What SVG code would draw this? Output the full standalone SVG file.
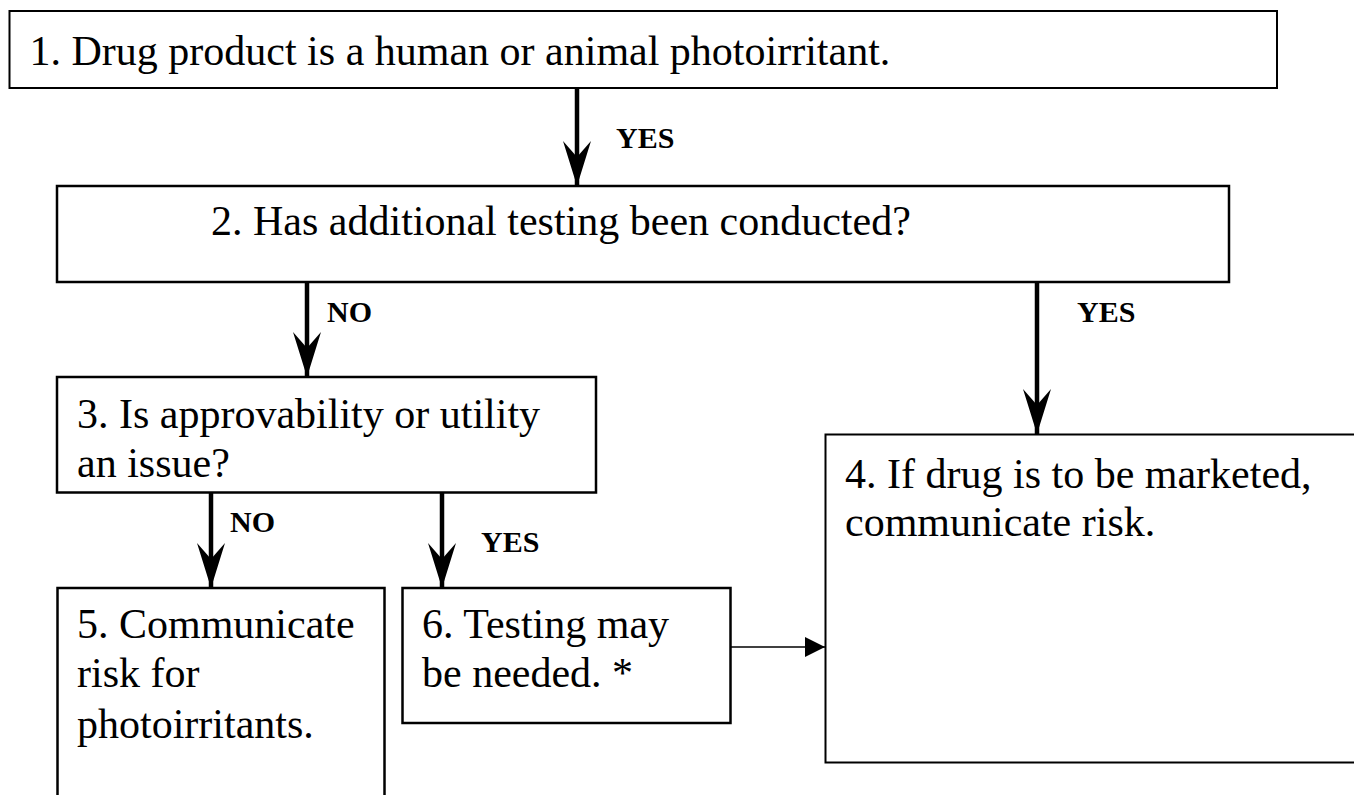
<svg xmlns="http://www.w3.org/2000/svg" width="1354" height="795" viewBox="0 0 1354 795">
<style>
  .box { fill: #ffffff; stroke: #000000; stroke-width: 2.5; }
  .thin { stroke-width: 2; }
  .txt { font-family: "Liberation Serif", "Times New Roman", serif; font-size: 42px; fill: #000000; }
  .lbl { font-family: "Liberation Serif", "Times New Roman", serif; font-size: 30px; font-weight: bold; fill: #000000; }
  .conn { stroke: #000000; stroke-width: 4.5; fill: none; }
  .conn-thin { stroke: #000000; stroke-width: 1.5; fill: none; }
</style>
<defs>
  <marker id="headBig" viewBox="-46 -15 47 30" refX="0" refY="0" markerWidth="47" markerHeight="30" markerUnits="userSpaceOnUse" orient="auto">
    <path d="M0,0 L-45,-14 L-29,0 L-45,14 Z" fill="#000000"/>
  </marker>
  <marker id="headSmall" viewBox="-21 -11 22 22" refX="0" refY="0" markerWidth="22" markerHeight="22" markerUnits="userSpaceOnUse" orient="auto">
    <path d="M0,0 L-20,-10 L-20,10 Z" fill="#000000"/>
  </marker>
</defs>
<rect width="1354" height="795" fill="#ffffff"/>

<g id="connectors">
  <path class="conn" d="M577,88 L577,186" marker-end="url(#headBig)"/>
  <path class="conn" d="M307,282 L307,377" marker-end="url(#headBig)"/>
  <path class="conn" d="M1037,282 L1037,434" marker-end="url(#headBig)"/>
  <path class="conn" d="M211,493 L211,588" marker-end="url(#headBig)"/>
  <path class="conn" d="M442,493 L442,588" marker-end="url(#headBig)"/>
  <path class="conn-thin" d="M730,647 L825,647" marker-end="url(#headSmall)"/>
  <text class="lbl" x="616" y="148">YES</text>
  <text class="lbl" x="327" y="322">NO</text>
  <text class="lbl" x="1077" y="322">YES</text>
  <text class="lbl" x="230" y="532">NO</text>
  <text class="lbl" x="481" y="552">YES</text>
</g>

<g id="node1">
  <rect class="box thin" x="9.5" y="11" width="1267.5" height="77"/>
  <text class="txt" x="29.5" y="65">1. Drug product is a human or animal photoirritant.</text>
</g>
<g id="node2">
  <rect class="box" x="57" y="186" width="1172" height="96"/>
  <text class="txt" x="211" y="235">2. Has additional testing been conducted?</text>
</g>
<g id="node3">
  <rect class="box" x="57" y="377" width="539" height="115.5"/>
  <text class="txt" x="77" y="428">3. Is approvability or utility</text>
  <text class="txt" x="77" y="477">an issue?</text>
</g>
<g id="node4">
  <rect class="box thin" x="825.5" y="434.5" width="540" height="328"/>
  <text class="txt" x="845" y="488">4. If drug is to be marketed,</text>
  <text class="txt" x="845" y="536">communicate risk.</text>
</g>
<g id="node5">
  <rect class="box" x="57.5" y="588" width="327" height="230"/>
  <text class="txt" x="77" y="638">5. Communicate</text>
  <text class="txt" x="77" y="687">risk for</text>
  <text class="txt" x="77" y="738">photoirritants.</text>
</g>
<g id="node6">
  <rect class="box" x="402.5" y="588" width="328" height="135"/>
  <text class="txt" x="422" y="638">6. Testing may</text>
  <text class="txt" x="422" y="687">be needed. *</text>
</g>
</svg>
